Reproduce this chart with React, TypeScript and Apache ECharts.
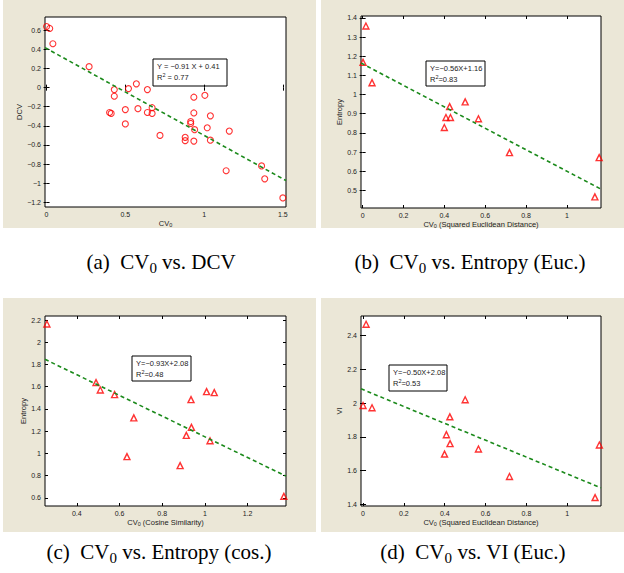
import React, { useEffect, useRef } from "react";
import * as echarts from "echarts";

// ---------- data ----------
// (a) CV0 vs. DCV
const aCV = [0.0, 0.02, 0.04, 0.27, 0.40, 0.41, 0.43, 0.43, 0.50, 0.50, 0.52, 0.57, 0.58, 0.64, 0.64, 0.67, 0.67, 0.72, 0.88, 0.88, 0.915, 0.915, 0.935, 0.935, 0.94, 0.935, 1.005, 1.02, 1.04, 1.04, 1.14, 1.16, 1.365, 1.385, 1.50];
const aDCV = [0.64, 0.62, 0.46, 0.22, -0.26, -0.27, -0.02, -0.09, -0.23, -0.38, -0.01, 0.04, -0.22, -0.02, -0.26, -0.21, -0.27, -0.50, -0.52, -0.555, -0.355, -0.375, -0.10, -0.265, -0.44, -0.56, -0.08, -0.42, -0.295, -0.55, -0.87, -0.455, -0.82, -0.955, -1.155];
const aFit = { slope: -0.91, intercept: 0.41, r2: 0.77 };

// (b) CV0 vs. Entropy (Euc.)
const bCV = [0.016, 0.002, 0.046, 0.426, 0.408, 0.43, 0.40, 0.502, 0.567, 0.719, 1.137, 1.158];
const bEntropy = [1.358, 1.168, 1.062, 0.937, 0.88, 0.88, 0.828, 0.962, 0.874, 0.697, 0.466, 0.671];
const bFit = { slope: -0.56, intercept: 1.16, r2: 0.83 };

// (c) CV0 vs. Entropy (cos.)
const cCV = [0.26, 0.49, 0.51, 0.577, 0.667, 0.635, 0.935, 0.937, 0.913, 0.884, 1.008, 1.044, 1.024, 1.37];
const cEntropy = [2.164, 1.637, 1.571, 1.529, 1.32, 0.972, 1.484, 1.235, 1.163, 0.891, 1.556, 1.547, 1.115, 0.615];
const cFit = { slope: -0.93, intercept: 2.08, r2: 0.48 };

// (d) CV0 vs. VI (Euc.)
const dCV = [0.015, 0.0, 0.044, 0.50, 0.425, 0.408, 0.426, 0.399, 0.565, 0.717, 1.136, 1.157];
const dVI = [2.468, 1.986, 1.973, 2.02, 1.919, 1.813, 1.76, 1.698, 1.728, 1.565, 1.44, 1.752];
const dFit = { slope: -0.50, intercept: 2.08, r2: 0.53 };

// tick labels
const aXTicks = [0, 0.5, 1, 1.5];
const aYTicks = [-1.2, -1, -0.8, -0.6, -0.4, -0.2, 0, 0.2, 0.4, 0.6];
const bXTicks = [0, 0.2, 0.4, 0.6, 0.8, 1];
const bYTicks = [0.5, 0.6, 0.7, 0.8, 0.9, 1, 1.1, 1.2, 1.3, 1.4];
const cXTicks = [0.4, 0.6, 0.8, 1, 1.2];
const cYTicks = [0.6, 0.8, 1, 1.2, 1.4, 1.6, 1.8, 2, 2.2];
const dXTicks = [0, 0.2, 0.4, 0.6, 0.8, 1];
const dYTicks = [1.4, 1.6, 1.8, 2, 2.2, 2.4];

const captions = ["(a)", "(b)", "(c)", "(d)"];
const captionTails = [" vs. DCV", " vs. Entropy (Euc.)", " vs. Entropy (cos.)", " vs. VI (Euc.)"];

// ---------- styling ----------
const SANS = '"Liberation Sans", Arial, Helvetica, sans-serif';
const SERIF = '"Liberation Serif", "Times New Roman", serif';
const BEIGE = "#ebe7d7";
const TXT = "#222";

const fmt = (v: number) => String(Math.round(v * 1000) / 1000).replace("-", "\u2212");
const fitText = (f: { slope: number; intercept: number }, spaced: boolean) => {
  const s = Math.abs(f.slope).toFixed(2);
  const b = f.intercept.toFixed(2);
  return spaced ? `Y = \u2212${s} X + ${b}` : `Y=\u2212${s}X+${b}`;
};

const panels = [
  {
    xs: aCV, ys: aDCV, fit: aFit, spaced: true, symbol: "circle", size: 6,
    grid: { left: 45, top: 17, width: 241, height: 190 },
    xMin: -0.01, xMax: 1.52, yMin: -1.25, yMax: 0.74, xTicks: aXTicks, yTicks: aYTicks,
    xTail: "", yName: "DCV", yGap: 20,
    box: { x: 153, y: 59, w: 74, h: 27 },
    bg: { x: 3, y: 0, w: 313, h: 228 }, cap: { x: 161, y: 262 },
  },
  {
    xs: bCV, ys: bEntropy, fit: bFit, spaced: false, symbol: "triangle", size: 6,
    grid: { left: 361, top: 16, width: 240, height: 192 },
    xMin: -0.008, xMax: 1.167, yMin: 0.408, yMax: 1.41, xTicks: bXTicks, yTicks: bYTicks,
    xTail: " (Squared Euclidean Distance)", yName: "Entropy", yGap: 16,
    box: { x: 426, y: 61, w: 59, h: 25 },
    bg: { x: 321, y: 0, w: 303, h: 228 }, cap: { x: 470, y: 262 },
  },
  {
    xs: cCV, ys: cEntropy, fit: cFit, spaced: false, symbol: "triangle", size: 6,
    grid: { left: 45, top: 316, width: 241, height: 190 },
    xMin: 0.251, xMax: 1.38, yMin: 0.528, yMax: 2.236, xTicks: cXTicks, yTicks: cYTicks,
    xTail: " (Cosine Similarity)", yName: "Entropy", yGap: 18,
    box: { x: 132, y: 356, w: 59, h: 25 },
    bg: { x: 3, y: 298, w: 313, h: 234 }, cap: { x: 159, y: 552 },
  },
  {
    xs: dCV, ys: dVI, fit: dFit, spaced: false, symbol: "triangle", size: 6,
    grid: { left: 361, top: 316, width: 240, height: 190 },
    xMin: -0.01, xMax: 1.165, yMin: 1.39, yMax: 2.517, xTicks: dXTicks, yTicks: dYTicks,
    xTail: " (Squared Euclidean Distance)", yName: "VI", yGap: 16,
    box: { x: 389, y: 365, w: 58, h: 26 },
    bg: { x: 321, y: 298, w: 303, h: 234 }, cap: { x: 473, y: 552 },
  },
];

function buildOption() {
  const grid: any[] = [];
  const xAxis: any[] = [];
  const yAxis: any[] = [];
  const series: any[] = [];
  const graphic: any[] = [];

  const tick = (vals: number[]) => ({
    show: true, inside: true, length: 3, customValues: vals,
    lineStyle: { color: "#000", width: 1 },
  });
  const nameRich = {
    n: { fontSize: 7.5, fontFamily: SANS, color: TXT, lineHeight: 10 },
    s: { fontSize: 5.5, fontFamily: SANS, color: TXT, lineHeight: 6, verticalAlign: "bottom", padding: [2, 0, 0, 0] },
  };

  panels.forEach((p, i) => {
    graphic.push({
      type: "rect", z: -10, silent: true,
      shape: { x: p.bg.x, y: p.bg.y, width: p.bg.w, height: p.bg.h },
      style: { fill: BEIGE },
    });
    grid.push({
      ...p.grid, show: true, backgroundColor: "#fff", borderColor: "#000", borderWidth: 1, containLabel: false,
    });
    xAxis.push({
      type: "value", gridIndex: i, position: "bottom", min: p.xMin, max: p.xMax,
      axisLine: { show: false }, splitLine: { show: false }, axisTick: tick(p.xTicks),
      axisLabel: { customValues: p.xTicks, formatter: fmt, fontSize: 7, color: TXT, fontFamily: SANS, margin: 4 },
      name: `{n|CV}{s|0}{n|${p.xTail}}`, nameLocation: "middle", nameGap: 11,
      nameTextStyle: { fontSize: 7.5, fontFamily: SANS, color: TXT, rich: nameRich },
    });
    xAxis.push({
      type: "value", gridIndex: i, position: "top", min: p.xMin, max: p.xMax,
      axisLine: { show: false }, splitLine: { show: false }, axisTick: tick(p.xTicks),
      axisLabel: { show: false },
    });
    yAxis.push({
      type: "value", gridIndex: i, position: "left", min: p.yMin, max: p.yMax,
      axisLine: { show: false }, splitLine: { show: false }, axisTick: tick(p.yTicks),
      axisLabel: { customValues: p.yTicks, formatter: fmt, fontSize: 7, color: TXT, fontFamily: SANS, margin: 4 },
      name: p.yName, nameLocation: "middle", nameGap: p.yGap,
      nameTextStyle: { fontSize: 7.5, fontFamily: SANS, color: TXT },
    });
    yAxis.push({
      type: "value", gridIndex: i, position: "right", min: p.yMin, max: p.yMax,
      axisLine: { show: false }, splitLine: { show: false }, axisTick: tick(p.yTicks),
      axisLabel: { show: false },
    });

    series.push({
      type: "scatter", xAxisIndex: 2 * i, yAxisIndex: 2 * i, z: 3,
      symbol: p.symbol, symbolSize: p.size,
      itemStyle: { color: "rgba(255,255,255,0)", borderColor: "#ff0000", borderWidth: p.symbol === "circle" ? 1.1 : 1.4 },
      data: p.xs.map((x, k) => [x, p.ys[k]]),
    });
    series.push({
      type: "line", xAxisIndex: 2 * i, yAxisIndex: 2 * i, z: 4, silent: true,
      symbol: "none",
      lineStyle: { color: "#1b8a1b", width: 1.6, type: [4, 3] },
      data: [
        [p.xMin, p.fit.intercept + p.fit.slope * p.xMin],
        [p.xMax, p.fit.intercept + p.fit.slope * p.xMax],
      ],
    });

    // regression annotation box
    const b = p.box;
    graphic.push({
      type: "group", z: 100,
      children: [
        { type: "rect", shape: { x: b.x, y: b.y, width: b.w, height: b.h }, style: { fill: "#fff", stroke: "#000", lineWidth: 1 } },
        {
          type: "text", x: b.x + 4, y: b.y + 7,
          style: { text: fitText(p.fit, p.spaced), fontSize: 7.5, fontFamily: SANS, fill: TXT, verticalAlign: "middle" },
        },
        {
          type: "text", x: b.x + 4, y: b.y + 18,
          style: {
            text: p.spaced ? `{n|R}{p|2}{n| = ${p.fit.r2.toFixed(2)}}` : `{n|R}{p|2}{n|=${p.fit.r2.toFixed(2)}}`,
            fontSize: 7.5, fontFamily: SANS, fill: TXT, verticalAlign: "middle",
            rich: {
              n: { fontSize: 7.5, fontFamily: SANS, fill: TXT, lineHeight: 10 },
              p: { fontSize: 5.5, fontFamily: SANS, fill: TXT, lineHeight: 6, verticalAlign: "top" },
            },
          },
        },
      ],
    });

    // caption
    graphic.push({
      type: "text", z: 100, x: p.cap.x, y: p.cap.y,
      style: {
        text: `{n|${captions[i]}  CV}{s|0}{n|${captionTails[i]}}`,
        fontSize: 21, fontFamily: SERIF, fill: "#000", align: "center", verticalAlign: "middle",
        rich: {
          n: { fontSize: 21, fontFamily: SERIF, fill: "#000", lineHeight: 26 },
          s: { fontSize: 15, fontFamily: SERIF, fill: "#000", lineHeight: 15, verticalAlign: "bottom", padding: [4, 0, 0, 0] },
        },
      },
    });
  });

  return { animation: false, backgroundColor: "#fff", grid, xAxis, yAxis, series, graphic };
}

export default function App() {
  const ref = useRef<HTMLDivElement>(null);
  useEffect(() => {
    if (!ref.current) return;
    const chart = echarts.init(ref.current, null, { renderer: "svg" });
    chart.setOption(buildOption() as any);
    return () => chart.dispose();
  }, []);
  return (
    <div
      ref={ref}
      style={{ position: "absolute", left: 0, top: 0, width: 624, height: 573 }}
    />
  );
}
